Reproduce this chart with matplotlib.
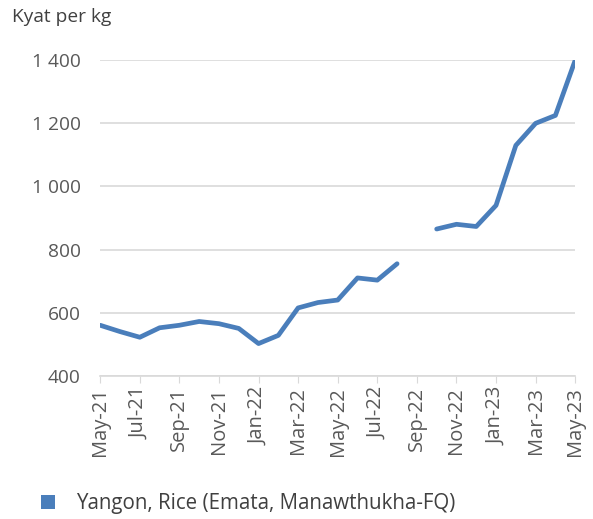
import matplotlib
matplotlib.use("Agg")
import matplotlib.pyplot as plt
import numpy as np
from matplotlib.ticker import FuncFormatter, FixedLocator
from matplotlib.patches import Patch

months = ["May-21", "Jun-21", "Jul-21", "Aug-21", "Sep-21", "Oct-21", "Nov-21", "Dec-21",
          "Jan-22", "Feb-22", "Mar-22", "Apr-22", "May-22", "Jun-22", "Jul-22", "Aug-22",
          "Sep-22", "Oct-22", "Nov-22", "Dec-22", "Jan-23", "Feb-23", "Mar-23", "Apr-23", "May-23"]
prices = [560, 540, 522, 552, 560, 572, 565, 550,
          502, 528, 615, 632, 640, 710, 703, 755,
          np.nan, 865, 880, 873, 940, 1130, 1200, 1225, 1400]
series_name = "Yangon, Rice (Emata, Manawthukha-FQ)"
y_ticks = [400, 600, 800, 1000, 1200, 1400]

plt.rcParams['font.family'] = ['Open Sans', 'DejaVu Sans']

fig = plt.figure(figsize=(5.93, 5.19), dpi=100)
ax = fig.add_axes([0.169, 0.276, 0.801, 0.608])

x = np.arange(len(months))
line_color = "#4A7EBB"
ax.plot(x, prices, color=line_color, lw=3.4, solid_capstyle='round', solid_joinstyle='round',
        label=series_name, zorder=3)

ax.set_xlim(0, len(months) - 1)
ax.set_ylim(400, 1400)
ax.yaxis.set_major_locator(FixedLocator(y_ticks))
ax.yaxis.set_major_formatter(FuncFormatter(lambda v, p: f"{int(v):,}".replace(",", " ")))
ax.grid(axis='y', color='#D9D9D9', lw=1.2, zorder=0)
ax.set_axisbelow(True)

tick_idx = list(range(0, len(months), 2))
ax.set_xticks(tick_idx)
ax.set_xticklabels([months[i] for i in tick_idx], rotation=90, color='#595959', fontsize=14.5)
ax.tick_params(axis='x', length=5, color='#D9D9D9', pad=3)
ax.tick_params(axis='y', length=0, pad=14, labelsize=13.8, labelcolor='#595959')

for s in ['top', 'right', 'left']:
    ax.spines[s].set_visible(False)
ax.spines['bottom'].set_color('#D9D9D9')
ax.spines['bottom'].set_linewidth(1.2)

fig.text(0.02, 0.985, "Kyat per kg", fontsize=13.8, color='#404040', va='top', ha='left')

fig.legend(handles=[Patch(facecolor=line_color, label=series_name)],
           loc='center left', bbox_to_anchor=(0.038, 0.03), frameon=False,
           fontsize=14.8, handlelength=0.7, handleheight=0.7, handletextpad=1.0,
           labelcolor='#404040')

fig.savefig("out.png", dpi=100)
